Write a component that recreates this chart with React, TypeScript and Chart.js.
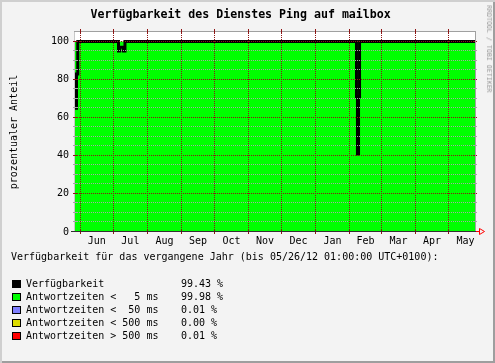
import React, { useEffect, useRef } from 'react';
import { Chart, registerables } from 'chart.js';

Chart.register(...registerables);

// ---- texts ----
const TITLE = 'Verfügbarkeit des Dienstes Ping auf mailbox';
const Y_TITLE = 'prozentualer Anteil';
const WATERMARK = 'RRDTOOL / TOBI OETIKER';
const LEGEND_HEADING = 'Verfügbarkeit für das vergangene Jahr (bis 05/26/12 01:00:00 UTC+0100):';

// ---- x axis: days since 2011-06-01 ----
const X_MIN = -4.9;
const X_MAX = 359.2;
const MONTH_NAMES = ['Jun', 'Jul', 'Aug', 'Sep', 'Oct', 'Nov', 'Dec', 'Jan', 'Feb', 'Mar', 'Apr', 'May'];
const MONTH_START_DAYS = [0, 30, 61, 92, 122, 153, 183, 214, 245, 274, 305, 335];
const MONTH_LENGTHS = [30, 31, 31, 30, 31, 30, 31, 31, 29, 31, 30, 31];

// ---- y axis ----
const Y_MIN = 0;
const Y_MAX = 105;
const Y_GRID_STEP = 5;
const Y_LABEL_STEP = 20;
const Y_TICK_LABELS = [0, 20, 40, 60, 80, 100];

// ---- series (change points, stepped) ----
const AVAIL_DAYS = [-4.9, -3.55, -2.37, 34.7, 35.8, 39.2, 40.6, 251.3, 252.2, 253.2, 254.1, 359.2];
const AVAIL_VALUES = [65, 83, 100, 95, 97, 95, 100, 71, 41, 71, 100, 100];
const FAST_DAYS = [-4.9, 359.2];
const FAST_VALUES = [100, 100];

// ---- legend ----
const LEGEND_LABELS = [
  'Verfügbarkeit',
  'Antwortzeiten <   5 ms',
  'Antwortzeiten <  50 ms',
  'Antwortzeiten < 500 ms',
  'Antwortzeiten > 500 ms',
];
const LEGEND_VALUES = ['99.43 %', '99.98 %', '0.01 %', '0.00 %', '0.01 %'];
const LEGEND_COLORS = ['#000000', '#00FF00', '#7F7FFF', '#DDDD00', '#FF0000'];

const MONO = '"DejaVu Sans Mono", monospace';
const MAJOR_GRID = '#8E1515';
const MINOR_GRID = '#A6A6A6';
const FRAME = '#A0A0A0';

const rrdPlugin = {
  id: 'rrdDecor',
  beforeDatasetsDraw(chart: any) {
    const { ctx, chartArea } = chart;
    ctx.save();
    ctx.fillStyle = '#FFFFFF';
    ctx.fillRect(chartArea.left - 1, chartArea.top - 1, chartArea.right - chartArea.left + 1, chartArea.bottom - chartArea.top + 1);
    ctx.restore();
  },
  afterDatasetsDraw(chart: any) {
    const { ctx, chartArea } = chart;
    const { left, right } = chartArea;
    const xs = chart.scales.x;
    const ys = chart.scales.y;
    const rowOf = (v: number) => Math.floor(ys.getPixelForValue(v) - 0.5) + 0.5;
    const colOf = (v: number) => Math.floor(xs.getPixelForValue(v)) + 0.5;
    const line = (x1: number, y1: number, x2: number, y2: number) => {
      ctx.beginPath();
      ctx.moveTo(x1, y1);
      ctx.lineTo(x2, y2);
      ctx.stroke();
    };
    const topRow = rowOf(Y_MAX);
    const zeroRow = rowOf(Y_MIN);
    ctx.save();
    ctx.lineWidth = 1;

    // left edge
    ctx.strokeStyle = '#C8C8C8';
    line(left - 0.5, topRow - 0.5, left - 0.5, zeroRow);

    // horizontal grid
    for (let v = Y_GRID_STEP; v < Y_MAX; v += Y_GRID_STEP) {
      const y = rowOf(v);
      const major = v % Y_LABEL_STEP === 0;
      ctx.strokeStyle = major ? MAJOR_GRID : MINOR_GRID;
      ctx.setLineDash([1, 1]);
      line(left, y, right, y);
      ctx.setLineDash([]);
      line(left - 2, y, left + 2, y);
      line(right - 2, y, right + 2, y);
    }

    // frame top / right
    ctx.strokeStyle = FRAME;
    line(left - 1, topRow, right + 1, topRow);
    line(right + 0.5, topRow, right + 0.5, zeroRow);

    // vertical month lines
    MONTH_START_DAYS.forEach((d) => {
      const x = colOf(d);
      ctx.strokeStyle = MAJOR_GRID;
      ctx.setLineDash([1, 1]);
      line(x, topRow - 0.5, x, zeroRow + 0.5);
      ctx.setLineDash([]);
      line(x, topRow - 2.5, x, topRow + 2.5);
      line(x, zeroRow - 2.5, x, zeroRow + 2.5);
    });

    // x axis
    ctx.strokeStyle = '#303030';
    line(left - 4, zeroRow, right + 1, zeroRow);
    // arrow
    ctx.strokeStyle = '#FF0000';
    line(right + 1, zeroRow, right + 5, zeroRow);
    ctx.beginPath();
    ctx.moveTo(right + 4.5, zeroRow - 3);
    ctx.lineTo(right + 9.5, zeroRow);
    ctx.lineTo(right + 4.5, zeroRow + 3);
    ctx.closePath();
    ctx.stroke();
    ctx.restore();
  },
};

function RrdChart() {
  const ref = useRef<HTMLCanvasElement | null>(null);
  useEffect(() => {
    if (!ref.current) return;
    const chart = new Chart(ref.current, {
      type: 'line',
      data: {
        datasets: [
          {
            label: LEGEND_LABELS[0],
            data: AVAIL_DAYS.map((x, i) => ({ x, y: AVAIL_VALUES[i] })),
            borderColor: LEGEND_COLORS[0],
            borderWidth: 3,
            stepped: true,
            pointRadius: 0,
            fill: false,
            borderJoinStyle: 'miter',
            borderCapStyle: 'butt',
          } as any,
          {
            label: LEGEND_LABELS[1],
            data: FAST_DAYS.map((x, i) => ({ x, y: FAST_VALUES[i] })),
            borderWidth: 0,
            borderColor: 'rgba(0,0,0,0)',
            backgroundColor: LEGEND_COLORS[1],
            fill: 'origin',
            pointRadius: 0,
          } as any,
        ],
      },
      options: {
        responsive: false,
        maintainAspectRatio: false,
        animation: false,
        devicePixelRatio: 1,
        layout: { padding: { left: 0, top: 32, right: 20, bottom: 0 } },
        plugins: {
          legend: { display: false },
          tooltip: { enabled: false },
          title: { display: false },
        },
        scales: {
          x: {
            type: 'linear',
            min: X_MIN,
            max: X_MAX,
            grid: { display: false, drawTicks: false },
            border: { display: false },
            afterFit: (s: any) => {
              s.height = 131;
            },
            afterBuildTicks: (s: any) => {
              s.ticks = MONTH_START_DAYS.map((d, i) => ({ value: d + MONTH_LENGTHS[i] / 2 }));
            },
            ticks: {
              autoSkip: false,
              maxRotation: 0,
              minRotation: 0,
              padding: 3,
              color: '#000',
              font: { family: MONO, size: 10 },
              callback: (_v: any, i: number) => MONTH_NAMES[i],
            },
          },
          y: {
            type: 'linear',
            min: Y_MIN,
            max: Y_MAX,
            grid: { display: false, drawTicks: false },
            border: { display: false },
            afterFit: (s: any) => {
              s.width = 75;
            },
            afterBuildTicks: (s: any) => {
              s.ticks = Y_TICK_LABELS.map((v) => ({ value: v }));
            },
            ticks: {
              autoSkip: false,
              padding: 6,
              color: '#000',
              font: { family: MONO, size: 10 },
              callback: (v: any) => String(v),
            },
          },
        },
      } as any,
      plugins: [rrdPlugin],
    });
    return () => chart.destroy();
  }, []);
  return <canvas ref={ref} width={495} height={363} style={{ position: 'absolute', left: 0, top: 0 }} />;
}

export default function App() {
  const rowTop = 277.8;
  const rowGap = 13;
  return (
    <div
      style={{
        position: 'absolute',
        left: 0,
        top: 0,
        width: 495,
        height: 363,
        background: '#F3F3F3',
        boxShadow: 'inset 2px 2px 0 #CFCFCF, inset -2px -2px 0 #9E9E9E',
        fontFamily: MONO,
        overflow: 'hidden',
      }}
    >
      <RrdChart />
      <div
        style={{
          position: 'absolute',
          left: 0,
          top: 7,
          width: 481.4,
          textAlign: 'center',
          fontSize: 11.6,
          lineHeight: '14px',
          fontWeight: 'bold',
          color: '#000',
          whiteSpace: 'pre',
        }}
      >
        {TITLE}
      </div>
      <div
        style={{
          position: 'absolute',
          left: 14,
          top: 131.7,
          transform: 'translate(-50%, -50%) rotate(-90deg)',
          fontSize: 10,
          lineHeight: '12px',
          whiteSpace: 'pre',
          color: '#000',
        }}
      >
        {Y_TITLE}
      </div>
      <div
        style={{
          position: 'absolute',
          left: 489,
          top: 48.5,
          transform: 'translate(-50%, -50%) rotate(90deg)',
          fontSize: 6.6,
          lineHeight: '8px',
          whiteSpace: 'pre',
          color: '#999999',
        }}
      >
        {WATERMARK}
      </div>
      <div
        style={{
          position: 'absolute',
          left: 11,
          top: 251.2,
          fontSize: 10,
          lineHeight: '12px',
          whiteSpace: 'pre',
          color: '#000',
        }}
      >
        {LEGEND_HEADING}
      </div>
      {LEGEND_LABELS.map((label, i) => (
        <React.Fragment key={label}>
          <div
            style={{
              position: 'absolute',
              left: 12,
              top: rowTop + 2.2 + i * rowGap,
              width: 9,
              height: 8,
              boxSizing: 'border-box',
              border: '1px solid #000',
              background: LEGEND_COLORS[i],
            }}
          />
          <div
            style={{
              position: 'absolute',
              left: 26,
              top: rowTop + i * rowGap,
              fontSize: 10,
              lineHeight: '12px',
              whiteSpace: 'pre',
              color: '#000',
            }}
          >
            {label}
          </div>
          <div
            style={{
              position: 'absolute',
              left: 181,
              top: rowTop + i * rowGap,
              fontSize: 10,
              lineHeight: '12px',
              whiteSpace: 'pre',
              color: '#000',
            }}
          >
            {LEGEND_VALUES[i]}
          </div>
        </React.Fragment>
      ))}
    </div>
  );
}
